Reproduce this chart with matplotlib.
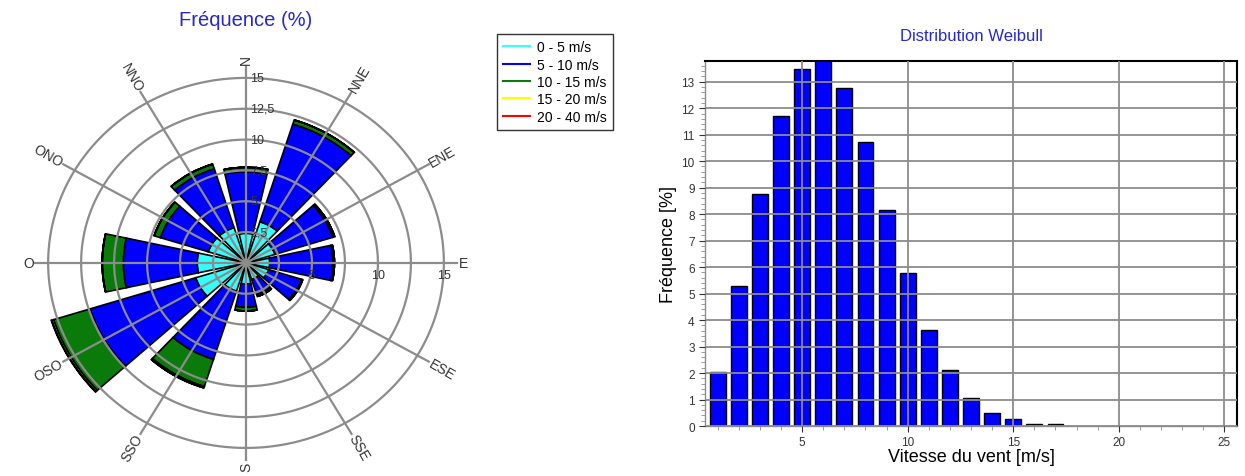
import numpy as np
import matplotlib
matplotlib.use("Agg")
import matplotlib.pyplot as plt
from matplotlib.lines import Line2D

plt.rcParams['font.family'] = ['Liberation Sans', 'DejaVu Sans']

# wind rose data (frequency %, stacked by speed class)
directions = ['N', 'NNE', 'ENE', 'E', 'ESE', 'SSE', 'S', 'SSO', 'OSO', 'O', 'ONO', 'NNO']
freq_0_5 = [2.4, 3.5, 2.3, 1.8, 1.8, 1.4, 1.7, 2.4, 4.0, 3.7, 3.0, 3.0]
freq_5_10 = [5.0, 8.3, 4.6, 4.8, 2.6, 1.3, 1.9, 5.8, 8.4, 5.6, 3.8, 5.0]
freq_10_15 = [0.35, 0.35, 0.15, 0.1, 0.1, 0.15, 0.3, 2.3, 2.9, 1.6, 0.5, 0.4]
freq_15_20 = [0, 0, 0, 0, 0, 0, 0, 0.12, 0.15, 0, 0, 0]
freq_20_40 = [0, 0, 0, 0, 0, 0, 0, 0, 0.03, 0, 0, 0]
speed_classes = ['0 - 5 m/s', '5 - 10 m/s', '10 - 15 m/s', '15 - 20 m/s', '20 - 40 m/s']
class_colors = ['#33FFFF', '#0000FF', '#0A7A0A', '#FFFF00', '#FF0000']
ring_values = [2.5, 5, 7.5, 10, 12.5, 15]
ring_labels = ['2,5', '5', '7,5', '10', '12,5', '15']

# Weibull histogram data
speed_bins = list(range(1, 18))
weibull_freq = [2.03, 5.3, 8.76, 11.71, 13.5, 13.9, 12.78, 10.73, 8.17, 5.77,
                3.63, 2.1, 1.07, 0.5, 0.25, 0.06, 0.06]

GRID = '#8C8C8C'
TITLE_BLUE = '#2828C8'

fig = plt.figure(figsize=(12.45, 4.77), dpi=100)

# ---------------- wind rose ----------------
ax = fig.add_axes([0.0249, 0.0252, 0.3454, 0.843], projection='polar')
ax.set_theta_zero_location('N')
ax.set_theta_direction(-1)
ax.set_aspect('auto')
ax.set_ylim(0, 16.3)
ax.grid(False)
ax.set_xticks([])
ax.set_yticks([])
ax.spines['polar'].set_visible(False)

theta = np.deg2rad(np.arange(len(directions)) * 30)
width = np.deg2rad(25)
bottom = np.zeros(len(directions))
for vals, col in zip([freq_0_5, freq_5_10, freq_10_15, freq_15_20, freq_20_40], class_colors):
    vals = np.array(vals)
    ax.bar(theta, vals, width=width, bottom=bottom, color=col, edgecolor='black',
           linewidth=1.2, zorder=2)
    bottom = bottom + vals

tt = np.linspace(0, 2 * np.pi, 400)
for r in ring_values:
    ax.plot(tt, np.full_like(tt, r), color=GRID, lw=1.6, zorder=3)
for t in theta:
    ax.plot([t, t], [0, 16.0], color=GRID, lw=1.6, zorder=3)

for r, lab in zip(ring_values, ring_labels):
    ax.annotate(lab, xy=(0, r), xytext=(3, 0), textcoords='offset points',
                ha='left', va='center', fontsize=9, color='#333333', zorder=4)
for r in [5, 10, 15]:
    ax.annotate(str(r), xy=(np.pi / 2, r), xytext=(0, -9), textcoords='offset points',
                ha='center', va='center', fontsize=9, color='#333333', zorder=4)

for t, name in zip(theta, directions):
    math_deg = 90 - np.rad2deg(t)
    a = (math_deg + 360) % 360
    if name == 'S':
        rot, ha = 90, 'right'
    elif a <= 90 or a > 270:
        rot = a if a <= 90 else a - 360
        ha = 'left'
    else:
        rot, ha = a - 180, 'right'
    ax.text(t, 16.1, name, rotation=rot, rotation_mode='anchor', ha=ha, va='center',
            fontsize=10, color='#333333')

fig.text(0.197, 0.956, 'Fréquence (%)', ha='center', va='center', fontsize=14.5,
         color=TITLE_BLUE)

handles = [Line2D([0], [0], color=c, lw=1.5) for c in class_colors]
leg = fig.legend(handles, speed_classes, loc='upper left',
                 bbox_to_anchor=(497 / 1245, 1 - 35 / 477), fontsize=10,
                 frameon=True, fancybox=False, handlelength=1.9, handletextpad=0.55,
                 borderpad=0.45, labelspacing=0.24, borderaxespad=0)
leg.get_frame().set_edgecolor('black')
leg.get_frame().set_linewidth(1.0)

# ---------------- Weibull distribution ----------------
bx = fig.add_axes([0.5663, 0.1048, 0.4273, 0.765])
bx.bar(speed_bins, weibull_freq, width=0.75, color='#0000FF', edgecolor='black',
       linewidth=1.0, zorder=2)
bx.set_xlim(0.4, 25.6)
bx.set_ylim(0, 13.78)
bx.set_xticks([5, 10, 15, 20, 25])
bx.set_xticks(range(1, 26), minor=True)
bx.set_yticks(range(0, 14))
bx.set_yticks(np.arange(0, 13.8, 0.2), minor=True)
bx.grid(True, which='major', color=GRID, lw=1.3, zorder=3)
bx.set_axisbelow(False)
bx.tick_params(axis='both', which='major', labelsize=8.5, colors='#333333', length=4)
bx.tick_params(axis='both', which='minor', length=3, color=GRID)
for side in ['top', 'right']:
    bx.spines[side].set_color('black')
    bx.spines[side].set_linewidth(1.5)
for side in ['left', 'bottom']:
    bx.spines[side].set_color(GRID)
    bx.spines[side].set_linewidth(1.0)
bx.text(0.5, 1.0 + 26 / 365, 'Distribution Weibull', transform=bx.transAxes,
        ha='center', va='center', fontsize=12, color=TITLE_BLUE)
bx.set_xlabel('Vitesse du vent [m/s]', fontsize=13, labelpad=0)
bx.set_ylabel('Fréquence [%]', fontsize=13, labelpad=3)

fig.savefig('out.png', dpi=100)
